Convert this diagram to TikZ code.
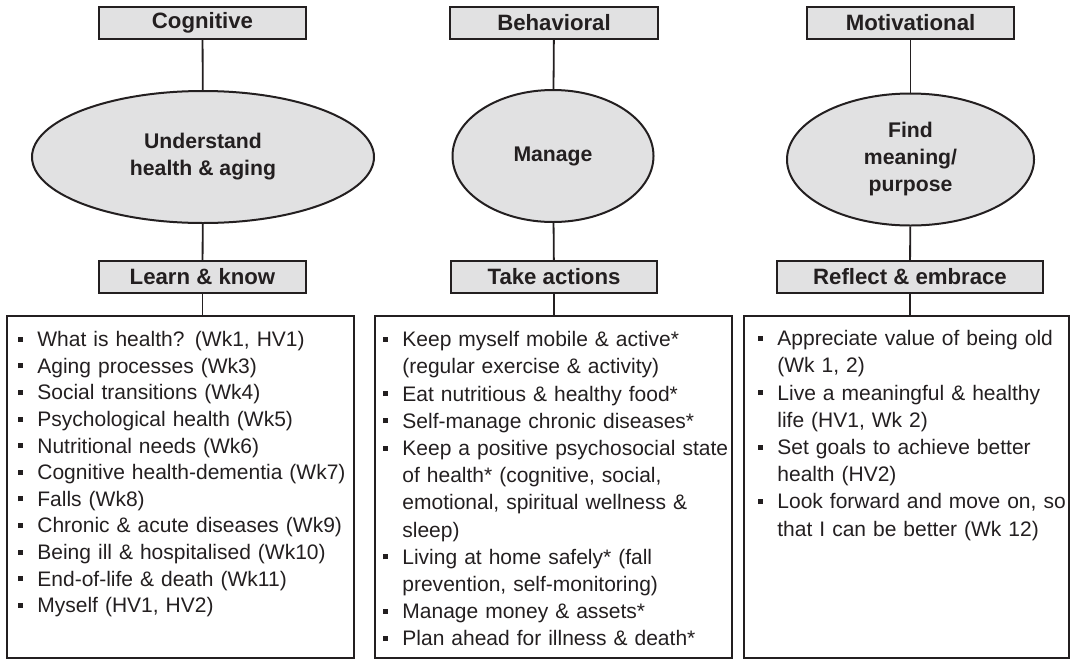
\documentclass[tikz,border=0pt]{standalone}
\usepackage{fontspec}
\setmainfont{Liberation Sans}
\usetikzlibrary{shapes.geometric, positioning}

\definecolor{boxgray}{HTML}{E1E1E2}
\definecolor{inkgray}{HTML}{231F20}

\newcommand{\sqb}{\makebox[9.5pt][l]{\rule[2.4pt]{2.5pt}{2.5pt}}}
\newcommand{\cnt}{\hspace*{9.5pt}}

\begin{document}
\begin{tikzpicture}[x=0.5pt, y=-0.5pt, inkgray,
		head/.style = {draw, fill=boxgray, line width=1pt, minimum height=16pt, inner sep=0pt, font=\bfseries\fontsize{11.1}{13}\selectfont},
		oval/.style = {draw, ellipse, fill=boxgray, line width=1pt, minimum height=66pt, inner sep=0pt, align=center, font=\bfseries\fontsize{10.6}{13.5}\selectfont},
		frame/.style = {draw, line width=1pt, minimum height=170.75pt, inner sep=0pt},
		list/.style = {inner sep=0pt, align=left, text width=180pt},
		link/.style = {line width=0.9pt}]
	
	\useasboundingbox (0,0) rectangle (1075,659);
	
	% top row
	\node[head, minimum width=103.5pt] (cog) at (202.5,23) {Cognitive};
	\node[head, minimum width=104pt] (beh) at (554,23) {Behavioral};
	\node[head, minimum width=103.5pt] (mot) at (910.5,23) {Motivational};
	
	\node[oval, minimum width=171pt] (und) at (203,157) {Understand\\health \& aging};
	\node[oval, minimum width=100.5pt] (man) at (553,156) {Manage};
	\node[oval, minimum width=123.5pt] (fin) at (910.5,159.5) {Find\\meaning/\\purpose};
	
	\node[head, minimum width=103.5pt] (learn) at (202.5,277) {Learn \& know};
	\node[head, minimum width=103pt] (act) at (554,277) {Take actions};
	\node[head, minimum width=133pt] (refl) at (910,277) {Reflect \& embrace};
	
	% bottom boxes
	\node[frame, minimum width=173.5pt] (knowbox) at (180.5,486.75) {};
	\node[frame, minimum width=178.5pt] (actbox) at (553.5,486.75) {};
	\node[frame, minimum width=162.5pt] (reflbox) at (906.5,486.75) {};
	
	\node[list, font=\fontsize{10.5}{13.3}\selectfont, below right=8pt and 6pt of knowbox.north west] (knowlist) {%
		\sqb What is health? (Wk1, HV1)\\
		\sqb Aging processes (Wk3)\\
		\sqb Social transitions (Wk4)\\
		\sqb Psychological health (Wk5)\\
		\sqb Nutritional needs (Wk6)\\
		\sqb Cognitive health-dementia (Wk7)\\
		\sqb Falls (Wk8)\\
		\sqb Chronic \& acute diseases (Wk9)\\
		\sqb Being ill \& hospitalised (Wk10)\\
		\sqb End-of-life \& death (Wk11)\\
		\sqb Myself (HV1, HV2)};
	
	\node[list, font=\fontsize{10.5}{13.6}\selectfont, below right=8pt and 4.5pt of actbox.north west] (actlist) {%
		\sqb Keep myself mobile \& active*\\
		\cnt (regular exercise \& activity)\\
		\sqb Eat nutritious \& healthy food*\\
		\sqb Self-manage chronic diseases*\\
		\sqb Keep a positive psychosocial state\\
		\cnt of health* (cognitive, social,\\
		\cnt emotional, spiritual wellness \&\\
		\cnt sleep)\\
		\sqb Living at home safely* (fall\\
		\cnt prevention, self-monitoring)\\
		\sqb Manage money \& assets*\\
		\sqb Plan ahead for illness \& death*};
	
	\node[list, font=\fontsize{10.5}{13.6}\selectfont, below right=7.5pt and 7.5pt of reflbox.north west] (refllist) {%
		\sqb Appreciate value of being old\\
		\cnt (Wk 1, 2)\\
		\sqb Live a meaningful \& healthy\\
		\cnt life (HV1, Wk 2)\\
		\sqb Set goals to achieve better\\
		\cnt health (HV2)\\
		\sqb Look forward and move on, so\\
		\cnt that I can be better (Wk 12)};
	
	% connectors
	\draw[link] (cog) -- (und);
	\draw[link] (und) -- (learn);
	\draw[link] (learn.south) -- (learn.south |- knowbox.north);
	\draw[link] (beh) -- (man);
	\draw[link] (man) -- (act);
	\draw[link] (act.south) -- (act.south |- actbox.north);
	\draw[link] (mot) -- (fin);
	\draw[link] (fin) -- (refl);
	\draw[link] (refl.south) -- (refl.south |- reflbox.north);
	
\end{tikzpicture}
\end{document}
